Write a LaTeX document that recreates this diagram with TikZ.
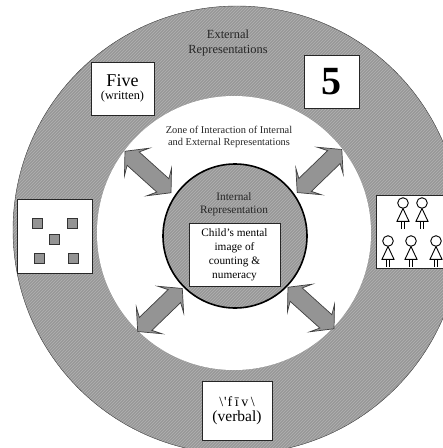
\documentclass[tikz,border=0pt]{standalone}
\usepackage{fontspec}
\setmainfont{Liberation Serif}
\definecolor{ringgray}{gray}{0.58}
\definecolor{stripegray}{gray}{0.68}
\definecolor{edgegray}{gray}{0.25}
\newcommand{\stripes}{\foreach \k in {0,3,...,900} {\draw[stripegray, line width=0.9pt] (\k,0) -- (\k-450,450);}}
\tikzset{
    whitebox/.style={draw=black!85, line width=1pt, fill=white, inner sep=0pt, align=center},
    dotsquare/.style={draw=black!80, line width=1pt, fill=ringgray, minimum size=10pt, inner sep=0pt},
    ringtext/.style={inner sep=0pt, align=center, text=black!85},
    blockarrow/.pic={
        \draw[fill=ringgray, draw=edgegray, line width=0.7pt] (-31,0) -- (-15,18.5) -- (-20,9) -- (20,9) -- (15,18.5) -- (31,0) -- (15,-18.5) -- (20,-9) -- (-20,-9) -- (-15,-18.5) -- cycle;
    },
    stickfig/.pic={
        \draw[line width=0.9pt, fill=white] (0,0) circle (5.3);
        \draw[line width=0.9pt, fill=white] (0,5.5) -- (-6,18.3) -- (6,18.3) -- cycle;
        \draw[line width=0.9pt] (-1.8,18.3) -- (-1.8,25.5) (1.8,18.3) -- (1.8,25.5);
    },
}
\begin{document}
\begin{tikzpicture}[x=1pt,y=-1pt]
    \useasboundingbox (0,0) rectangle (443,448);
    \clip (0,0) rectangle (443,448);

    \fill[white] (0,0) rectangle (443,448);
    % outer ring
    \fill[ringgray] (237,230) circle (224);
    \begin{scope}
        \clip (237,230) circle (224);
        \stripes
    \end{scope}
    \draw[edgegray, line width=0.4pt] (237,230) circle (224);
    \fill[white] (234,233) circle (137);
    % inner disc
    \fill[ringgray] (235,236) circle (72);
    \begin{scope}
        \clip (235,236) circle (72);
        \stripes
    \end{scope}
    \draw[black, line width=1.6pt] (235,236) circle (72);

    \node[ringtext, font=\fontsize{12.4}{15}\selectfont] (external) at (228,43.5) {External\\Representations};
    \node[ringtext, font=\fontsize{10.4}{12}\selectfont] (zone) at (229,137) {Zone of Interaction of Internal\\and External Representations};
    \node[ringtext, font=\fontsize{11.3}{13}\selectfont] (internal) at (234,204.5) {Internal\\Representation};

    % big arrows
    \pic[rotate=-42] at (148,172) {blockarrow};
    \pic[rotate=44] at (319.5,171) {blockarrow};
    \pic[rotate=44] at (160,310) {blockarrow};
    \pic[rotate=-42] at (311,308) {blockarrow};

    \node[whitebox, minimum width=63pt, minimum height=53pt] (fivebox) at (122.5,88.5) {\fontsize{18}{20}\selectfont Five\\[1pt]\fontsize{12.3}{14}\selectfont (written)};
    \node[whitebox, minimum width=55pt, minimum height=53pt, font=\fontsize{40}{40}\selectfont\bfseries] (digitbox) at (331.5,81.5) {5};
    \node[whitebox, minimum width=75pt, minimum height=74pt] (dotsbox) at (54.5,236) {};
    \node[whitebox, minimum width=80pt, minimum height=73pt] (kidsbox) at (416,231.5) {};
    \node[whitebox, minimum width=70pt, minimum height=59pt] (verbalbox) at (237,410.5) {\fontsize{14}{16}\selectfont\textbackslash\kern1pt\textquotesingle\kern1pt f\kern2.5pt ī\kern2.5pt v\kern2.5pt\textbackslash\\[3pt]\fontsize{15.5}{17}\selectfont (verbal)};
    \node[whitebox, minimum width=91pt, minimum height=63pt, font=\fontsize{11.3}{14}\selectfont] (mentalbox) at (234.5,254.5) {Child's mental\\image of\\counting \&\\numeracy};

    \node[dotsquare] (dota) at (37,223) {};
    \node[dotsquare] (dotb) at (72,223) {};
    \node[dotsquare] (dotc) at (54,239) {};
    \node[dotsquare] (dotd) at (39,258) {};
    \node[dotsquare] (dote) at (73,258) {};

    \pic at (403,203) {stickfig};
    \pic at (422,203) {stickfig};
    \pic at (388,241) {stickfig};
    \pic at (411,241) {stickfig};
    \pic at (436,241) {stickfig};
\end{tikzpicture}
\end{document}
